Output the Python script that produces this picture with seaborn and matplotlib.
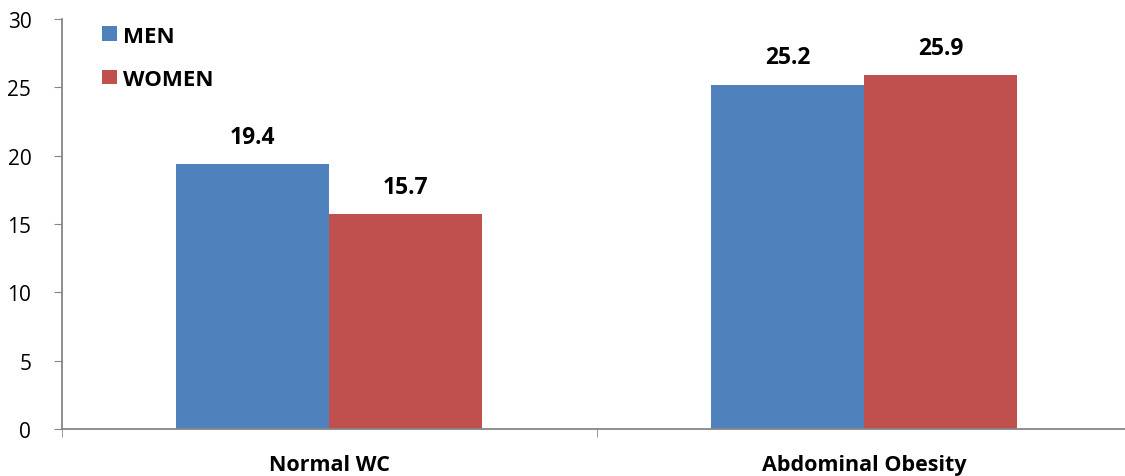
import pandas as pd
import numpy as np
import seaborn as sns
import matplotlib.pyplot as plt
from matplotlib.ticker import FixedLocator

# values
groups = ["Normal WC", "Abdominal Obesity"]
men = [19.4, 25.2]
women = [15.7, 25.9]
series = ["MEN", "WOMEN"]
colors = ["#4F81BD", "#C0504D"]

df = pd.DataFrame({
    "group": groups * 2,
    "sex": ["MEN"] * 2 + ["WOMEN"] * 2,
    "value": men + women,
})

sns.set_style("white")
plt.rcParams["font.family"] = ["Open Sans", "DejaVu Sans"]
plt.rcParams["text.color"] = "black"

fig, ax = plt.subplots(figsize=(11.25, 4.77), dpi=100)
fig.subplots_adjust(left=0.055, right=1.006, top=0.958, bottom=0.0985)

sns.barplot(data=df, x="group", y="value", hue="sex", order=groups,
            hue_order=series, palette=colors, width=0.572, saturation=1,
            linewidth=0, ax=ax)

for cont in ax.containers:
    ax.bar_label(cont, fmt="%.1f", padding=11, fontsize=16.5, fontweight="bold")

ax.set_ylim(0, 30)
ax.set_xlim(-0.5, 1.5)
ax.set_yticks([0, 5, 10, 15, 20, 25, 30])
ax.tick_params(axis="y", labelsize=15, length=6, pad=16, color="#868686",
               labelcolor="black", left=True)
ax.tick_params(axis="x", which="major", length=0, labelsize=15.5, pad=18,
               labelcolor="black")
ax.xaxis.set_minor_locator(FixedLocator([-0.5, 0.5, 1.5]))
ax.tick_params(axis="x", which="minor", length=6, color="#868686", bottom=True)
for lab in ax.get_xticklabels():
    lab.set_fontweight("bold")
ax.set_xlabel("")
ax.set_ylabel("")

sns.despine(ax=ax)
for s in ["left", "bottom"]:
    ax.spines[s].set_color("#868686")
    ax.spines[s].set_linewidth(1.3)

ax.legend(loc="upper left", bbox_to_anchor=(0.019, 1.033), frameon=False,
          prop={"weight": "bold", "size": 16}, handlelength=0.65,
          handleheight=0.65, handletextpad=0.3, labelspacing=1.0)

plt.savefig("out.png")
